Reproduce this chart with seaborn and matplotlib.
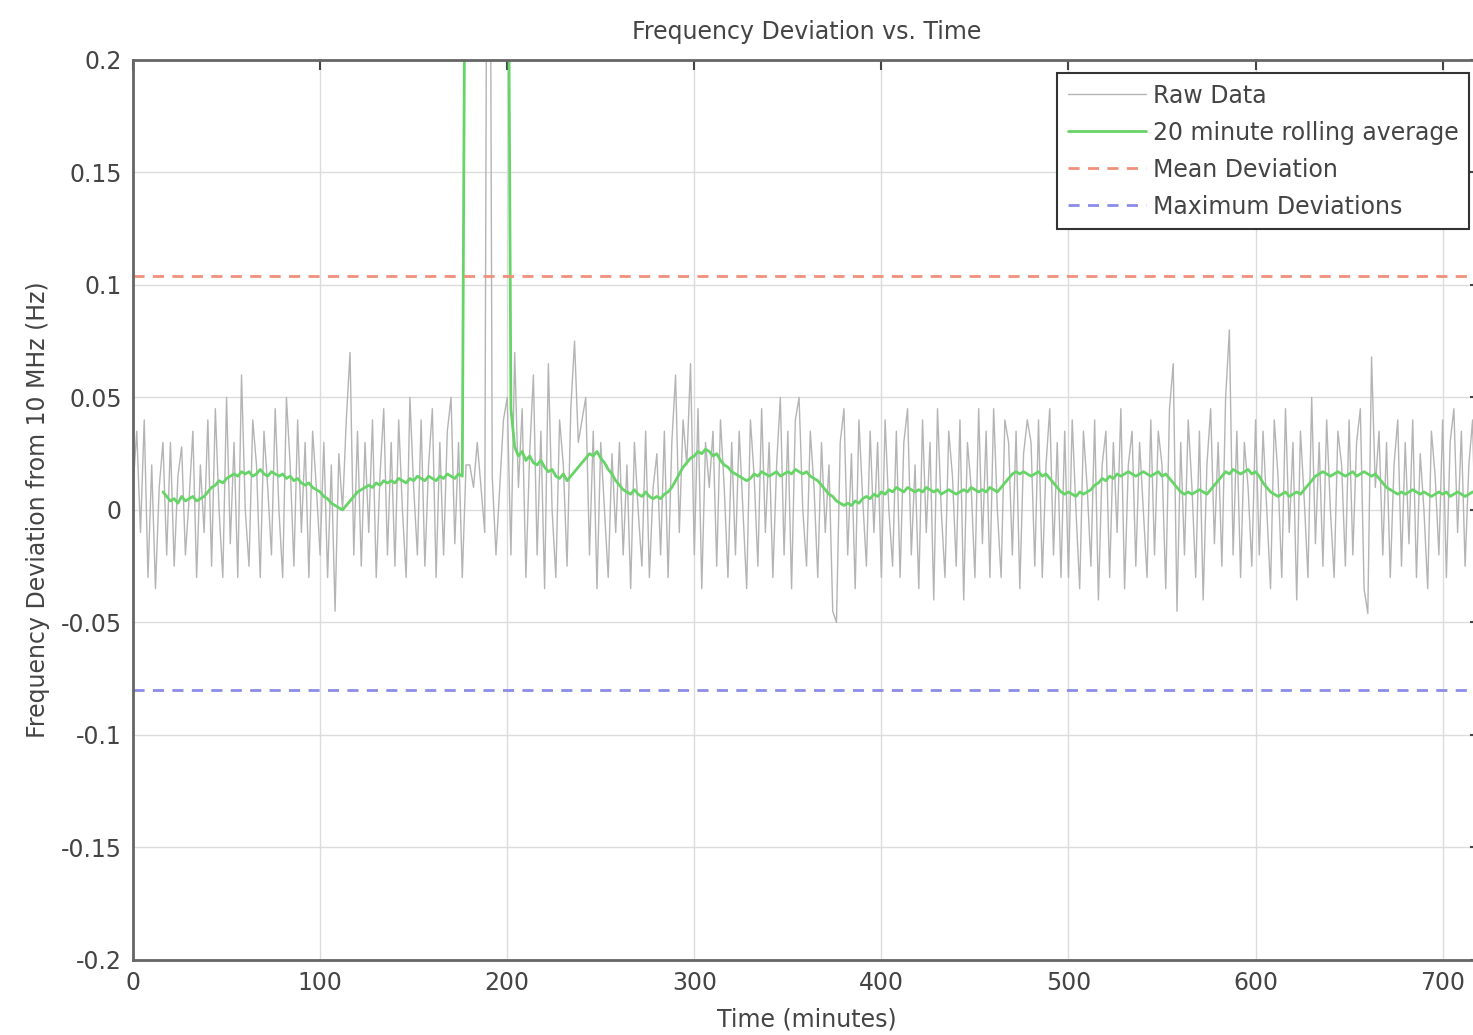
import matplotlib
matplotlib.use('Agg')
import matplotlib.pyplot as plt
import numpy as np
import pandas as pd
import seaborn as sns


# sample times (minutes), one reading every 2 minutes
time_min = list(range(0, 720, 2))

# raw frequency deviation readings (Hz)
raw_hz = [
    0.01, 0.035, -0.01, 0.04, -0.03, 0.02, -0.035, 0.01, 0.03, -0.02,
    0.03, -0.025, 0.015, 0.028, -0.02, 0.005, 0.035, -0.03, 0.02, -0.01,
    0.04, -0.025, 0.045, 0.0, -0.03, 0.05, -0.015, 0.03, -0.03, 0.06,
    0.0, -0.025, 0.04, 0.02, -0.03, 0.035, 0.01, -0.02, 0.045, 0.0,
    -0.03, 0.05, 0.02, -0.025, 0.04, -0.01, 0.03, -0.03, 0.035, 0.01,
    -0.02, 0.03, -0.03, 0.02, -0.045, 0.025, 0.0, 0.04, 0.07, -0.02,
    0.035, -0.025, 0.03, -0.01, 0.04, -0.03, 0.015, 0.045, -0.02, 0.03,
    -0.025, 0.04, 0.0, -0.03, 0.05, 0.01, -0.02, 0.04, -0.025, 0.02,
    0.045, -0.03, 0.03, -0.02, 0.035, 0.05, -0.015, 0.03, -0.03, 0.02,
    0.02, 0.01, 0.03, 0.01, -0.01, 0.5, 0.015, -0.02, 0.01, 0.04,
    0.05, -0.02, 0.07, 0.01, 0.045, -0.03, 0.025, 0.06, -0.02, 0.035,
    -0.035, 0.065, 0.0, -0.03, 0.04, 0.02, -0.025, 0.045, 0.075, 0.03,
    0.04, 0.05, -0.02, 0.035, -0.035, 0.03, 0.0, -0.03, 0.025, -0.01,
    0.03, -0.02, 0.02, -0.035, 0.03, 0.0, -0.025, 0.035, -0.03, 0.01,
    0.025, -0.02, 0.035, -0.03, 0.03, 0.06, -0.01, 0.04, 0.02, 0.065,
    -0.02, 0.045, -0.035, 0.03, 0.01, 0.035, -0.025, 0.04, 0.01, -0.03,
    0.03, -0.02, 0.035, 0.0, -0.035, 0.04, 0.015, -0.025, 0.045, -0.01,
    0.03, -0.03, 0.02, 0.05, -0.02, 0.035, -0.035, 0.04, 0.05, 0.0,
    -0.025, 0.035, 0.01, -0.03, 0.03, -0.01, 0.02, -0.045, -0.05, 0.03,
    0.045, -0.02, 0.025, -0.035, 0.04, 0.005, -0.025, 0.035, -0.01, 0.03,
    -0.03, 0.04, 0.0, -0.025, 0.035, -0.03, 0.03, 0.045, -0.02, 0.02,
    -0.035, 0.04, -0.01, 0.03, -0.04, 0.045, 0.0, -0.03, 0.035, 0.015,
    -0.025, 0.04, -0.04, 0.03, 0.01, -0.03, 0.045, -0.015, 0.035, -0.03,
    0.045, 0.0, -0.03, 0.04, 0.03, -0.02, 0.035, -0.035, 0.025, 0.04,
    0.03, -0.025, 0.04, -0.03, 0.02, 0.045, -0.02, 0.03, -0.03, 0.035,
    -0.03, 0.04, 0.0, -0.035, 0.035, 0.01, -0.025, 0.04, -0.04, 0.02,
    0.035, -0.03, 0.03, -0.01, 0.045, -0.035, 0.02, 0.035, -0.025, 0.03,
    0.0, -0.03, 0.04, -0.02, 0.035, 0.02, -0.035, 0.045, 0.065, -0.045,
    0.03, -0.02, 0.04, 0.01, -0.03, 0.035, -0.04, 0.02, 0.045, -0.015,
    0.03, -0.025, 0.05, 0.08, -0.02, 0.035, -0.03, 0.03, 0.01, -0.025,
    0.04, -0.02, 0.035, 0.0, -0.035, 0.04, 0.015, -0.03, 0.045, -0.01,
    0.03, -0.04, 0.035, 0.005, -0.03, 0.05, -0.015, 0.03, -0.025, 0.04,
    0.0, -0.03, 0.035, 0.02, -0.025, 0.04, -0.02, 0.03, 0.045, -0.035,
    -0.046, 0.068, 0.01, 0.035, -0.02, 0.03, -0.03, 0.02, 0.04, -0.025,
    0.03, -0.015, 0.04, -0.03, 0.025, 0.0, -0.035, 0.035, 0.015, -0.02,
    0.04, -0.03, 0.03, 0.045, -0.01, 0.035, -0.025, 0.02, 0.04, -0.03,
]

# 20 minute rolling average as drawn (nan before the first full window)
rolling_hz = [np.nan] * 8 + [
    0.008, 0.006,
    0.004, 0.005, 0.003, 0.006, 0.004, 0.005, 0.006, 0.004, 0.005, 0.006,
    0.008, 0.01, 0.011, 0.013, 0.012, 0.014, 0.015, 0.016, 0.015, 0.017,
    0.016, 0.017, 0.015, 0.016, 0.018, 0.016, 0.015, 0.017, 0.016, 0.015,
    0.016, 0.014, 0.015, 0.013, 0.014, 0.012, 0.011, 0.012, 0.01, 0.009,
    0.008, 0.006, 0.005, 0.003, 0.002, 0.001, 0.0, 0.002, 0.004, 0.006,
    0.008, 0.009, 0.01, 0.011, 0.01, 0.012, 0.011, 0.013, 0.012, 0.013,
    0.012, 0.014, 0.013, 0.012, 0.014, 0.013, 0.015, 0.014, 0.013, 0.015,
    0.014, 0.013, 0.015, 0.014, 0.016, 0.015, 0.014, 0.016, 0.015, 0.35,
    0.35, 0.35, 0.35, 0.35, 0.35, 0.35, 0.35, 0.35, 0.35, 0.35,
    0.35, 0.045, 0.028, 0.024, 0.026, 0.022, 0.024, 0.021, 0.02, 0.022,
    0.019, 0.017, 0.018, 0.015, 0.014, 0.016, 0.013, 0.015, 0.017, 0.019,
    0.021, 0.023, 0.025, 0.024, 0.026, 0.023, 0.021, 0.018, 0.016, 0.013,
    0.011, 0.009, 0.008, 0.007, 0.009, 0.007, 0.006, 0.008, 0.006, 0.005,
    0.006, 0.005, 0.007, 0.008, 0.01, 0.013, 0.016, 0.019, 0.021, 0.023,
    0.024, 0.026, 0.025, 0.027, 0.026, 0.024, 0.025, 0.022, 0.02, 0.019,
    0.017, 0.016, 0.015, 0.014, 0.013, 0.014, 0.016, 0.015, 0.017, 0.016,
    0.015, 0.016, 0.017, 0.015, 0.016, 0.017, 0.016, 0.018, 0.017, 0.016,
    0.017, 0.015, 0.014, 0.013, 0.011, 0.009, 0.007, 0.006, 0.004, 0.003,
    0.002, 0.003, 0.002, 0.004, 0.003, 0.005, 0.006, 0.005, 0.007, 0.006,
    0.008, 0.007, 0.009, 0.008, 0.01, 0.009, 0.008, 0.01, 0.009, 0.008,
    0.009, 0.008, 0.01, 0.009, 0.008, 0.009, 0.007, 0.008, 0.009, 0.008,
    0.007, 0.008, 0.009, 0.008, 0.01, 0.009, 0.008, 0.009, 0.008, 0.01,
    0.009, 0.008, 0.01, 0.012, 0.014, 0.016, 0.017, 0.016, 0.017, 0.016,
    0.015, 0.016, 0.017, 0.015, 0.016, 0.014, 0.012, 0.01, 0.008, 0.007,
    0.008, 0.007, 0.006, 0.008, 0.007, 0.008, 0.009, 0.011, 0.012, 0.014,
    0.013, 0.015, 0.014, 0.016, 0.015, 0.016, 0.017, 0.016, 0.015, 0.016,
    0.017, 0.016, 0.015, 0.016, 0.017, 0.015, 0.016, 0.014, 0.012, 0.01,
    0.008, 0.007, 0.008, 0.007, 0.008, 0.009, 0.008, 0.007, 0.009, 0.011,
    0.013, 0.015, 0.017, 0.016, 0.018, 0.017, 0.016, 0.017, 0.018, 0.016,
    0.017, 0.015, 0.012, 0.01, 0.008, 0.007, 0.006, 0.007, 0.008, 0.006,
    0.007, 0.008, 0.007, 0.009, 0.011, 0.013, 0.015, 0.016, 0.017, 0.016,
    0.015, 0.016, 0.017, 0.016, 0.015, 0.016, 0.017, 0.015, 0.016, 0.017,
    0.016, 0.015, 0.016, 0.014, 0.012, 0.01, 0.009, 0.008, 0.007, 0.008,
    0.007, 0.008, 0.009, 0.008, 0.007, 0.008, 0.007, 0.006, 0.007, 0.008,
    0.007, 0.008, 0.006, 0.007, 0.008, 0.007, 0.006, 0.007, 0.008, 0.007,
]

mean_deviation = 0.104
max_deviation = -0.08

y_ticks = [-0.2, -0.15, -0.1, -0.05, 0, 0.05, 0.1, 0.15, 0.2]
y_tick_labels = ['-0.2', '-0.15', '-0.1', '-0.05', '0', '0.05', '0.1', '0.15', '0.2']
x_ticks = [0, 100, 200, 300, 400, 500, 600, 700]

df = pd.DataFrame({'time': time_min, 'raw': raw_hz, 'rolling': rolling_hz})

sns.set_style('white')
plt.rcParams['font.family'] = ['DejaVu Sans']
text_color = '#444444'

fig = plt.figure(figsize=(14.73, 10.35), dpi=100)
# axes run a little past the right edge of the picture, like the reference crop
ax = fig.add_axes([0.0903, 0.0725, 0.9145, 0.8696])

sns.lineplot(data=df, x='time', y='raw', ax=ax, color='#b4b4b4', linewidth=1.0,
             label='Raw Data')
sns.lineplot(data=df, x='time', y='rolling', ax=ax, color='#66d466', linewidth=2.0,
             label='20 minute rolling average')
ax.axhline(mean_deviation, color='#f0907a', linestyle='--', linewidth=2.0,
           dashes=(4, 3), label='Mean Deviation')
ax.axhline(max_deviation, color='#8c8ce6', linestyle='--', linewidth=2.0,
           dashes=(4, 3), label='Maximum Deviations')

ax.set_xlim(0, 720)
ax.set_ylim(-0.2, 0.2)
ax.set_xticks(x_ticks)
ax.set_yticks(y_ticks)
ax.set_yticklabels(y_tick_labels)
ax.grid(True, color='#dcdcdc', linewidth=1.0)
ax.tick_params(direction='in', length=7, width=1.5, top=True, right=True,
               labelsize=17, colors=text_color, pad=8)
for spine in ax.spines.values():
    spine.set_color('#666666')
    spine.set_linewidth(2.0)

ax.set_title('Frequency Deviation vs. Time', fontsize=17, color=text_color, pad=15)
ax.set_xlabel('Time (minutes)', fontsize=17, color=text_color, labelpad=9)
ax.set_ylabel('Frequency Deviation from 10 MHz (Hz)', fontsize=17, color=text_color,
              labelpad=8)

leg = ax.legend(loc='upper left', bbox_to_anchor=(0.7176, 0.9295),
                bbox_transform=fig.transFigure, borderaxespad=0, fontsize=17,
                frameon=True, fancybox=False, framealpha=1, edgecolor='#333333',
                handlelength=3.3, labelspacing=0.55, borderpad=0.45,
                handletextpad=0.3)
leg.get_frame().set_linewidth(1.5)
for t in leg.get_texts():
    t.set_color(text_color)

fig.savefig('out.png', dpi=100)
plt.close()
